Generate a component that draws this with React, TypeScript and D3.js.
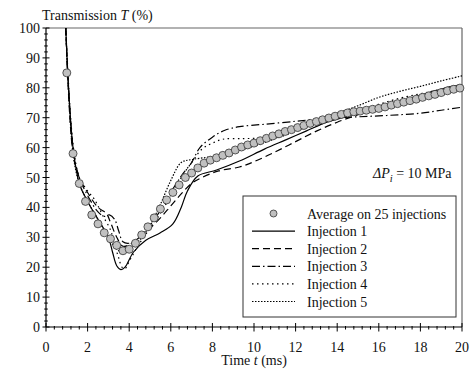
import React from "react";
import * as d3 from "d3";

const W = 470;
const H = 381;
const margin = { left: 46, right: 8, top: 28, bottom: 54 };

const xTicks = [0, 2, 4, 6, 8, 10, 12, 14, 16, 18, 20];
const yTicks = [0, 10, 20, 30, 40, 50, 60, 70, 80, 90, 100];

const avgT = [
  1.0, 1.3, 1.6, 1.9, 2.2, 2.5, 2.8, 3.1, 3.4, 3.7, 4.0, 4.3, 4.6, 4.9, 5.2, 5.5,
  5.8, 6.1, 6.4, 6.7, 7.0, 7.3, 7.6, 7.9, 8.2, 8.5, 8.8, 9.1, 9.4, 9.7, 10.0,
  10.3, 10.6, 10.9, 11.2, 11.5, 11.8, 12.1, 12.4, 12.7, 13.0, 13.3, 13.6, 13.9,
  14.2, 14.5, 14.8, 15.1, 15.4, 15.7, 16.0, 16.3, 16.6, 16.9, 17.2, 17.5, 17.8,
  18.1, 18.4, 18.7, 19.0, 19.3, 19.6, 19.9,
];
const avgV = [
  85, 58, 48, 42, 37.5, 34.5, 31.5, 29.5, 27.3, 25.5, 26, 28, 30.8, 33.5, 36.5,
  39.5, 42.5, 45, 47.5, 50, 51.5, 53.2, 54.8, 55.8, 56.6, 57.4, 58.2, 59.2, 60.2,
  60.9, 61.5, 62.3, 63.1, 63.9, 64.6, 65.4, 66.0, 66.7, 67.4, 68.1, 68.7, 69.3,
  69.9, 70.5, 71.1, 71.6, 72.0, 72.2, 72.5, 72.8, 73.1, 73.6, 74.2, 74.7, 75.2,
  75.7, 76.2, 76.8, 77.3, 77.8, 78.4, 79.0, 79.5, 79.9,
];

const inj1: [number, number][] = [
  [0.95, 100], [1.1, 78], [1.3, 60], [1.6, 48], [2.0, 42], [2.5, 36], [3.0, 30],
  [3.2, 25], [3.4, 20.5], [3.6, 19.2], [3.8, 20], [4.2, 25], [4.8, 29], [5.5, 31.5],
  [6.1, 34.5], [6.5, 40], [6.8, 45.5], [7.3, 50.5], [8.2, 52.5], [9.3, 55.5],
  [10.5, 59.5], [11.5, 62.5], [12.5, 65.5], [13.5, 68.5], [14.5, 70.5], [15.5, 72.5],
  [16.5, 74.5], [17.5, 76.5], [18.5, 78.5], [19.5, 80.5], [20, 81],
];
const inj2: [number, number][] = [
  [0.95, 100], [1.3, 58], [1.6, 50], [2.0, 45], [2.5, 40], [2.9, 38], [3.1, 35],
  [3.4, 30], [3.7, 27], [4.0, 27.5], [4.5, 30], [5.0, 33], [5.5, 36.5], [6.0, 40.5],
  [6.5, 44.5], [7.0, 48], [7.5, 50], [8.3, 52.2], [9.3, 53.5], [10.0, 55.3],
  [11.0, 58.5], [12.0, 62], [13.0, 65.5], [14.0, 68.5], [15.0, 71], [16.0, 73.5],
  [17.0, 75.5], [18.0, 77.5], [19.0, 79.5], [20, 80.5],
];
const inj3: [number, number][] = [
  [0.95, 100], [1.3, 60], [1.6, 50], [2.0, 44], [2.5, 38.5], [2.8, 37], [3.05, 37.5],
  [3.3, 36], [3.5, 32], [3.7, 28.5], [4.0, 28], [4.5, 30], [5.0, 34], [5.5, 39],
  [6.0, 45], [6.5, 50.5], [7.0, 55], [7.4, 60], [8.0, 63.5], [8.6, 65.8], [9.3, 67],
  [10.5, 67.8], [12.0, 68.8], [13.0, 69.5], [14.0, 70], [15.0, 70.3], [16.0, 70.6],
  [17.0, 71], [18.0, 71.5], [19.0, 72.5], [20, 73.5],
];
const inj4: [number, number][] = [
  [0.95, 100], [1.3, 61], [1.6, 50], [2.0, 45.5], [2.3, 43], [2.5, 40.5], [2.75, 37],
  [3.1, 32.5], [3.3, 27.5], [3.5, 23], [3.65, 20], [3.8, 19.5], [4.0, 22], [4.5, 28],
  [5.0, 33], [5.5, 38], [6.0, 44], [6.5, 50], [7.0, 55], [7.5, 59.5], [8.0, 61.5],
  [8.5, 62.8], [9.5, 63], [10.5, 63.2], [11.2, 63.5], [12.0, 65.5], [13.0, 68],
  [14.0, 70.5], [15.0, 72.5], [16.0, 74.5], [17.0, 76.5], [18.0, 78], [19.0, 79.5],
  [20, 81],
];
const inj5: [number, number][] = [
  [0.95, 100], [1.3, 58], [1.6, 48], [2.0, 42], [2.5, 36], [3.0, 30], [3.4, 26],
  [3.7, 25], [4.0, 26], [4.5, 29], [5.0, 34], [5.5, 41], [6.0, 49], [6.5, 55],
  [7.0, 56], [8.0, 57], [9.0, 58.5], [10.0, 60.5], [11.0, 63], [12.0, 66.5],
  [13.0, 69], [14.0, 71.5], [15.0, 74], [16.0, 76.8], [17.0, 78.8], [18.0, 80.5],
  [19.0, 82.3], [20, 84],
];

const seriesNames = ["Injection 1", "Injection 2", "Injection 3", "Injection 4", "Injection 5"];
const seriesData = [inj1, inj2, inj3, inj4, inj5];
const dashes = ["none", "7,4", "8,3,1.5,3", "1.5,3.5", "1.5,1.5"];

const FONT = "'Liberation Serif', 'Times New Roman', serif";

export default function App() {
  const x = d3.scaleLinear().domain([0, 20]).range([margin.left, W - margin.right]);
  const y = d3.scaleLinear().domain([0, 100]).range([H - margin.bottom, margin.top]);
  const line = d3
    .line<[number, number]>()
    .x((d) => x(d[0]))
    .y((d) => y(d[1]))
    .curve(d3.curveCatmullRom.alpha(0.5));

  const x0 = x(0);
  const x1 = x(20);
  const y0 = y(0);
  const y1 = y(100);

  const xMinor = d3.range(0, 20.001, 0.4).filter((v) => Math.abs(v / 2 - Math.round(v / 2)) > 1e-6);
  const yMinor = d3.range(0, 100.001, 2).filter((v) => v % 10 !== 0);

  const legX = 243;
  const legY = 196;
  const legW = 213;
  const legH = 121;
  const rowY = (i: number) => 213.5 + i * 17.6;

  return (
    <svg
      width={W}
      height={H}
      style={{ position: "absolute", left: 0, top: 0, background: "#fff" }}
      fontFamily={FONT}
    >
      <rect width={W} height={H} fill="#fff" />
      <defs>
        <clipPath id="plotclip">
          <rect x={x0} y={y1 - 2} width={x1 - x0} height={y0 - y1 + 2} />
        </clipPath>
      </defs>

      {/* frame top/right */}
      <line x1={x0} x2={x1} y1={y1} y2={y1} stroke="#666" strokeWidth={1.2} />
      <line x1={x1} x2={x1} y1={y1} y2={y0} stroke="#666" strokeWidth={1.2} />

      {/* injection curves */}
      <g clipPath="url(#plotclip)">
        {seriesData.map((d, i) => (
          <path
            key={i}
            d={line(d) || ""}
            fill="none"
            stroke="#000"
            strokeWidth={1.2}
            strokeDasharray={dashes[i]}
          />
        ))}
      </g>

      {/* average circles */}
      {avgT.map((t, i) => (
        <circle
          key={i}
          cx={x(t)}
          cy={y(avgV[i])}
          r={4}
          fill="#c0c0c0"
          stroke="#333"
          strokeWidth={0.8}
        />
      ))}

      {/* axes */}
      <line x1={x0} x2={x0} y1={y1} y2={y0} stroke="#000" strokeWidth={1.2} />
      <line x1={x0} x2={x1} y1={y0} y2={y0} stroke="#000" strokeWidth={1.2} />

      {yTicks.map((v) => (
        <g key={"yt" + v}>
          <line x1={x0 - 3.5} x2={x0 + 3.5} y1={y(v)} y2={y(v)} stroke="#000" strokeWidth={1} />
          <text x={x0 - 6} y={y(v) + 5} fontSize={14} textAnchor="end" fill="#111">
            {v}
          </text>
        </g>
      ))}
      {yMinor.map((v) => (
        <line key={"ym" + v} x1={x0 - 1.8} x2={x0 + 1.8} y1={y(v)} y2={y(v)} stroke="#000" strokeWidth={1} />
      ))}
      {xTicks.map((v) => (
        <g key={"xt" + v}>
          <line x1={x(v)} x2={x(v)} y1={y0 - 4} y2={y0 + 4.5} stroke="#000" strokeWidth={1} />
          <text x={x(v)} y={y0 + 24.5} fontSize={14} textAnchor="middle" fill="#111">
            {v}
          </text>
        </g>
      ))}
      {xMinor.map((v) => (
        <line key={"xm" + v} x1={x(v)} x2={x(v)} y1={y0 - 1} y2={y0 + 2.5} stroke="#000" strokeWidth={1} />
      ))}

      {/* axis titles */}
      <text x={42} y={20} fontSize={14} fill="#111">
        Transmission <tspan fontStyle="italic">T</tspan> (%)
      </text>
      <text x={(x0 + x1) / 2} y={365} fontSize={14} textAnchor="middle" fill="#111">
        Time <tspan fontStyle="italic">t</tspan> (ms)
      </text>

      {/* annotation */}
      <text x={373} y={178} fontSize={14} fill="#111">
        <tspan fontStyle="italic">ΔP</tspan>
        <tspan fontStyle="italic" fontSize={10.5} dy={4}>i</tspan>
        <tspan dy={-4}> = 10 MPa</tspan>
      </text>

      {/* legend */}
      <rect x={legX} y={legY} width={legW} height={legH} fill="#fff" stroke="#333" strokeWidth={1} />
      <circle cx={273.5} cy={rowY(0)} r={3.5} fill="#c0c0c0" stroke="#333" strokeWidth={0.8} />
      <text x={307} y={rowY(0) + 5} fontSize={14} fill="#111">
        Average on 25 injections
      </text>
      {seriesNames.map((name, i) => (
        <g key={name}>
          <line
            x1={252}
            x2={295}
            y1={rowY(i + 1)}
            y2={rowY(i + 1)}
            stroke="#000"
            strokeWidth={1.2}
            strokeDasharray={dashes[i]}
          />
          <text x={307} y={rowY(i + 1) + 5} fontSize={14} fill="#111">
            {name}
          </text>
        </g>
      ))}
    </svg>
  );
}
